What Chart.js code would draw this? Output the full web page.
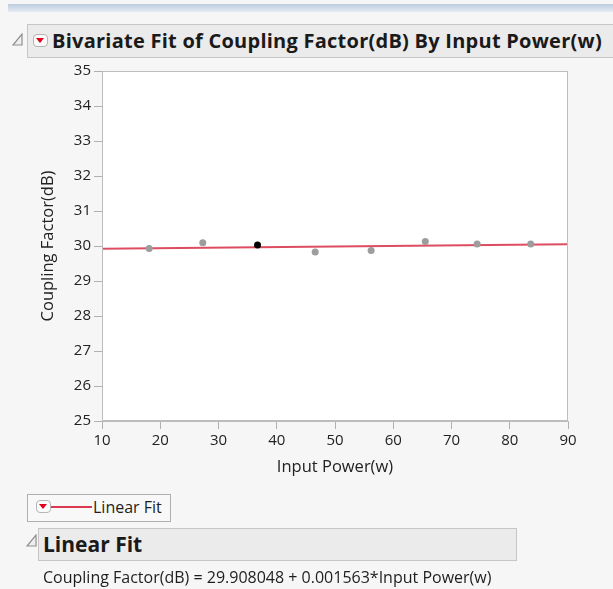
<!DOCTYPE html>
<html>
<head>
<meta charset="utf-8">
<script src="https://cdn.jsdelivr.net/npm/chart.js@4.4.1/dist/chart.umd.min.js"></script>
<style>
  html,body{margin:0;padding:0;background:#f6f6f6;}
  body{width:613px;height:589px;position:relative;overflow:hidden;font-family:"Open Sans","Noto Sans",sans-serif;color:#1e1e1e;}
  #c{position:absolute;left:0;top:0;}
  .band{position:absolute;left:8px;right:0;top:4px;height:8px;background:linear-gradient(#bccbdd,#e4ebf3);}
  .hdr{position:absolute;background:#ebebeb;border:1px solid #c6c6c6;box-sizing:border-box;}
  .tri{position:absolute;width:11px;height:13px;}
  .dd{position:absolute;width:15px;height:13px;border:1px solid #b5b5b5;border-radius:4px;background:#fafafa;box-sizing:border-box;}
  .dd:after{content:"";position:absolute;left:2px;top:3px;border-left:4.5px solid transparent;border-right:4.5px solid transparent;border-top:5px solid #e0001b;}
  .txt{position:absolute;white-space:nowrap;}
</style>
</head>
<body>
<canvas id="c" width="613" height="589"></canvas>
<div class="band"></div>
<div class="hdr" style="left:27px;top:24px;width:590px;height:34px;"></div>
<svg class="tri" style="left:12px;top:33px;" viewBox="0 0 11 13"><polygon points="1,12 10,12 10,1" fill="#efefef" stroke="#8f8f8f" stroke-width="1.2"/></svg>
<div class="dd" style="left:33px;top:34px;"></div>
<div class="txt" style="left:52px;top:27px;font-weight:bold;font-size:20px;line-height:28px;color:#1a1a1a;letter-spacing:0.25px;">Bivariate Fit of Coupling Factor(dB) By Input Power(w)</div>

<div class="hdr" style="left:27px;top:494px;width:144px;height:28px;background:#f8f8f8;border-color:#b0b0b0;"></div>
<div class="dd" style="left:36px;top:500px;"></div>
<div style="position:absolute;left:51px;top:506px;width:41px;height:2px;background:#d9384f;"></div>
<div class="txt" style="left:93px;top:497px;font-size:16px;line-height:20px;">Linear Fit</div>

<div class="hdr" style="left:38px;top:528px;width:479px;height:33px;"></div>
<svg class="tri" style="left:26px;top:534px;" viewBox="0 0 11 13"><polygon points="1,12 10,12 10,1" fill="#efefef" stroke="#8f8f8f" stroke-width="1.2"/></svg>
<div class="txt" style="left:43px;top:529px;font-weight:bold;font-size:21px;line-height:30px;color:#1a1a1a;">Linear Fit</div>
<div class="txt" style="left:43px;top:566px;font-size:16px;line-height:22px;">Coupling Factor(dB) = 29.908048 + 0.001563*Input Power(w)</div>

<script>
// ---- data ----
const inputPower   = [18.1, 27.3, 36.7, 46.6, 56.2, 65.5, 74.4, 83.6];
const couplingDb   = [29.93, 30.09, 30.03, 29.83, 29.87, 30.13, 30.06, 30.06];
const selectedIndex = 2;               // the highlighted (black) point
const fitX = [10, 90];                 // linear fit line end points
const fitY = [29.92, 30.05];
const xTicks = [10, 20, 30, 40, 50, 60, 70, 80, 90];
const yTicks = [25, 26, 27, 28, 29, 30, 31, 32, 33, 34, 35];

const pts = inputPower.map((x, i) => ({x, y: couplingDb[i]}));
const fitPts = fitX.map((x, i) => ({x, y: fitY[i]}));

const frame = {
  id: 'frame',
  beforeDatasetsDraw(chart) {
    const a = chart.chartArea, ctx = chart.ctx;
    ctx.save();
    ctx.fillStyle = '#ffffff';
    ctx.fillRect(a.left, a.top, a.right - a.left, a.bottom - a.top);
    ctx.restore();
  },
  afterDraw(chart) {
    const a = chart.chartArea, ctx = chart.ctx;
    ctx.save();
    ctx.strokeStyle = '#bdbdbd';
    ctx.lineWidth = 1;
    ctx.strokeRect(Math.round(a.left) + 0.5, Math.round(a.top) + 0.5,
                   Math.round(a.right - a.left) - 1, Math.round(a.bottom - a.top) - 1);
    ctx.restore();
  }
};

const tickFont = {family: '"Open Sans", "Noto Sans", sans-serif', size: 15};
const titleFont = {family: '"Open Sans", "Noto Sans", sans-serif', size: 16.5};

new Chart(document.getElementById('c'), {
  type: 'scatter',
  data: {
    datasets: [
      {
        label: 'Linear Fit',
        type: 'line',
        data: fitPts,
        borderColor: 'rgba(217,56,79,0.9)',
        borderWidth: 2,
        pointRadius: 0,
        fill: false,
        order: 2
      },
      {
        label: 'Coupling Factor(dB)',
        data: pts,
        pointRadius: 3.5,
        pointBorderWidth: 0,
        pointBackgroundColor: ctx => ctx.dataIndex === selectedIndex ? '#000000' : '#9d9d9d',
        order: 1
      }
    ]
  },
  options: {
    responsive: false,
    animation: false,
    devicePixelRatio: 1,
    layout: {autoPadding: false, padding: {left: 38, right: 45, top: 71, bottom: 108}},
    plugins: {legend: {display: false}, tooltip: {enabled: false}},
    scales: {
      x: {
        type: 'linear', min: 10, max: 90,
        afterFit: s => { s.height = 60; },
        afterBuildTicks: s => { s.ticks = xTicks.map(v => ({value: v})); },
        ticks: {font: tickFont, color: '#222', padding: 3, maxRotation: 0},
        grid: {drawOnChartArea: false, drawTicks: true, tickLength: 8, color: '#b0b0b0'},
        border: {display: true, color: '#bdbdbd'},
        title: {display: true, text: 'Input Power(w)', font: titleFont, color: '#222', padding: {top: 0, bottom: 4}}
      },
      y: {
        type: 'linear', min: 25, max: 35,
        afterFit: s => { s.width = 64; },
        afterBuildTicks: s => { s.ticks = yTicks.map(v => ({value: v})); },
        ticks: {font: tickFont, color: '#222', padding: 3},
        grid: {drawOnChartArea: false, drawTicks: true, tickLength: 8, color: '#b0b0b0'},
        border: {display: true, color: '#bdbdbd'},
        title: {display: true, text: 'Coupling Factor(dB)', font: titleFont, color: '#222', padding: {top: 0, bottom: 0}}
      }
    }
  },
  plugins: [frame]
});
</script>
</body>
</html>
